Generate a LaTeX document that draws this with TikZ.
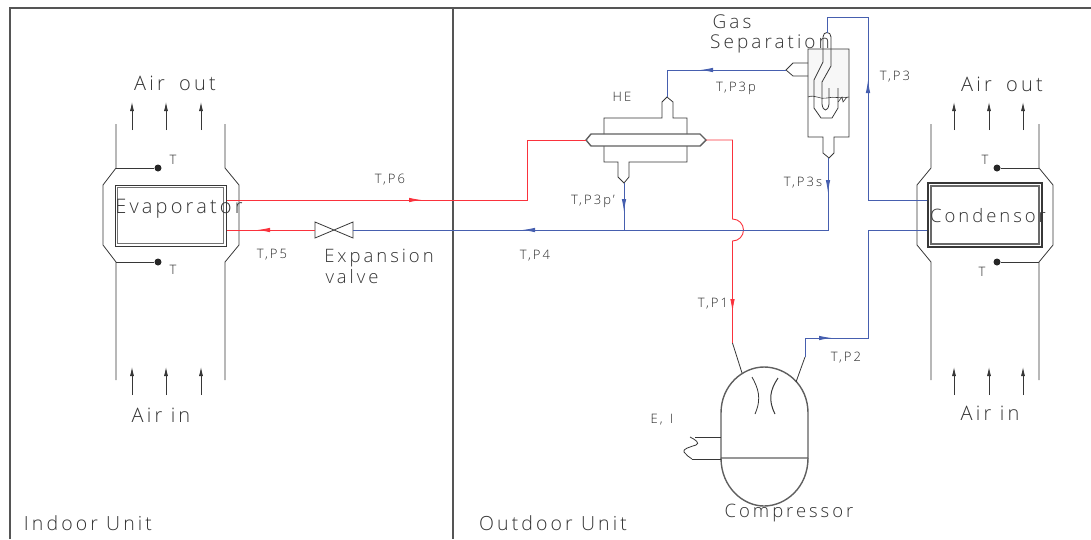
\documentclass[tikz,border=0pt]{standalone}
\usepackage{fontspec}
\usepackage{xcolor}
\setmainfont{Open Sans Light}[LetterSpace=16]
\usetikzlibrary{
    arrows.meta,
    calc,
    positioning
}
\definecolor{pipered}{RGB}{250,50,60}
\definecolor{pipeblue}{RGB}{70,95,175}
\definecolor{cadgray}{RGB}{55,55,55}
\tikzset{
    frameline/.style={draw=cadgray!85, line width=1.6pt},
    cadline/.style={draw=cadgray, line width=0.8pt, line join=miter},
    heavyline/.style={draw=cadgray!80, line width=1.4pt},
    redpipe/.style={draw=pipered, line width=0.9pt},
    bluepipe/.style={draw=pipeblue, line width=0.9pt},
    pipetip/.style={-{Latex[length=13pt, width=4.5pt]}},
    coilbox/.style={draw=cadgray, line width=1pt, inner sep=0pt},
    sensordot/.style={circle, fill=black!85, inner sep=0pt, minimum size=7pt},
    biglabel/.style={font=\fontsize{20}{21}\selectfont, text=black!80, inner sep=0pt},
    midlabel/.style={font=\fontsize{18.5}{20}\selectfont, text=black!80, inner sep=0pt},
    smalllabel/.style={font=\fontsize{13}{14}\selectfont, text=black!85, inner sep=0pt}
}

\begin{document}
\begin{tikzpicture}[x=1pt, y=-1pt]
    \useasboundingbox (0, 0) rectangle (1091, 539);
    % frame
    \coordinate (frametl) at (10, 8);
    \coordinate (framebl) at (10, 539);
    \coordinate (frametr) at (1091, 8);
    \coordinate (divtop) at (453, 8);
    \coordinate (divbot) at (453, 539);
    \draw[frameline] (framebl) -- (frametl) -- (frametr);
    \draw[frameline] (divtop) -- (divbot);
    \node[biglabel, font=\fontsize{19.5}{21}\selectfont] (indoor) at (88, 523) {Indoor Unit};
    \node[biglabel, font=\fontsize{19.5}{21}\selectfont] (outdoor) at (553, 523) {Outdoor Unit};

    % evaporator
    \draw[cadline] (116, 124) -- (116, 168) -- (103, 185) -- (103, 245) -- (116, 262) -- (116, 380);
    \draw[cadline] (225, 124) -- (225, 168) -- (239, 185) -- (239, 245) -- (225, 262) -- (225, 380);
    \node[coilbox, minimum width=111pt, minimum height=61pt] (evapcoil) at (170.5, 215.5) {};
    \node[coilbox, draw=cadgray!70, minimum width=106pt, minimum height=56pt] (evapcoilin) at (170.5, 215.5) {};
    \node[biglabel] (evaplabel) at (179, 209) {Evaporator};
    \node[sensordot] (evapdota) at (158, 168) {};
    \node[sensordot] (evapdotb) at (158, 262) {};
    \coordinate (evapwalla) at (116, 168);
    \coordinate (evapwallb) at (116, 262);
    \draw[cadline] (evapwalla) -- (evapdota);
    \draw[cadline] (evapwallb) -- (evapdotb);
    \node[smalllabel] (evaptempa) at (173, 160) {T};
    \node[smalllabel] (evaptempb) at (173, 270) {T};
    \foreach \x in {132, 166, 201} {
        \coordinate (airtail) at (\x, 130);
        \coordinate (airhead) at (\x, 102);
        \draw[cadline, -{Latex[length=9pt, width=4pt]}] (airtail) -- (airhead);
        \coordinate (airtail) at (\x, 395);
        \coordinate (airhead) at (\x, 367);
        \draw[cadline, -{Latex[length=9pt, width=4pt]}] (airtail) -- (airhead);
    }
    \node[biglabel] (evapairout) at (175, 83) {Air\hspace{6pt} out};
    \node[biglabel] (evapairin) at (161, 415) {Air in};

    % condensor
    \draw[cadline] (931, 124) -- (931, 168) -- (917, 185) -- (917, 245) -- (931, 262) -- (931, 380);
    \draw[cadline] (1039, 124) -- (1039, 168) -- (1053, 185) -- (1053, 245) -- (1039, 262) -- (1039, 380);
    \node[coilbox, line width=1.4pt, minimum width=114pt, minimum height=64pt] (condcoil) at (985, 215) {};
    \node[coilbox, line width=1.4pt, draw=cadgray!75, minimum width=108pt, minimum height=58pt] (condcoilin) at (985, 215) {};
    \node[midlabel] (condlabel) at (988, 216) {Condensor};
    \node[sensordot] (conddota) at (997, 168) {};
    \node[sensordot] (conddotb) at (997, 262) {};
    \coordinate (condwalla) at (1039, 168);
    \coordinate (condwallb) at (1039, 262);
    \draw[cadline] (condwalla) -- (conddota);
    \draw[cadline] (condwallb) -- (conddotb);
    \node[smalllabel] (condtempa) at (985, 160) {T};
    \node[smalllabel] (condtempb) at (982, 272) {T};
    \foreach \x in {954, 989, 1023} {
        \coordinate (airtail) at (\x, 130);
        \coordinate (airhead) at (\x, 102);
        \draw[cadline, -{Latex[length=9pt, width=4pt]}] (airtail) -- (airhead);
        \coordinate (airtail) at (\x, 395);
        \coordinate (airhead) at (\x, 367);
        \draw[cadline, -{Latex[length=9pt, width=4pt]}] (airtail) -- (airhead);
    }
    \node[biglabel] (condairout) at (1002, 84) {Air\hspace{6pt} out};
    \node[biglabel] (condairin) at (990, 413) {Air in};

    % heat exchanger
    \draw[cadline] (604, 134) -- (604, 118) -- (662, 118) -- (662, 102) -- (667, 97) -- (673, 102) -- (673, 118) -- (687, 118) -- (687, 134);
    \draw[cadline] (604, 146) -- (604, 162) -- (618, 162) -- (618, 177) -- (624, 183) -- (629, 177) -- (629, 162) -- (687, 162) -- (687, 146);
    \draw[heavyline] (586, 140) -- (591, 134) -- (700, 134) -- (706, 140) -- (700, 146) -- (591, 146) -- cycle;
    \node[smalllabel] (helabel) at (622, 97) {HE};

    % gas separator
    \fill[black!3] (808, 49) rectangle (849, 97);
    \draw[cadline] (808, 63) -- (793, 63) -- (786, 70) -- (793, 76) -- (808, 76);
    \draw[cadline] (808, 49) -- (849, 49) -- (849, 137) -- (834, 137) -- (834, 153) -- (829, 158) -- (823, 153) -- (823, 137) -- (808, 137) -- cycle;
    \draw[cadline] (814, 108) -- (814, 80) -- (823, 62) -- (823, 37) .. controls (823, 31) and (831, 31) .. (831, 37) -- (831, 66) -- (822, 82) -- (822, 104) .. controls (823, 112) and (828, 112) .. (829, 104) -- (829, 88);
    \draw[cadline] (814, 108) -- (821, 118) -- (832, 118) -- (838, 108) -- (838, 88);
    \draw[cadline, line width=0.6pt] (808, 97) .. controls (815, 94) and (820, 100) .. (827, 98) .. controls (834, 96) and (840, 99) .. (849, 97);
    \draw[cadline, line width=0.6pt] (838, 102) -- (842, 97) -- (843, 102) -- (847, 97);
    \node[biglabel, font=\fontsize{19}{20}\selectfont] (gaslabel) at (732, 22) {Gas};
    \node[biglabel, font=\fontsize{19}{20}\selectfont] (seplabel) at (770, 44) {Separation};

    % compressor
    \draw[heavyline] (721, 458) -- (721, 413) .. controls (721, 385) and (743, 367) .. (764, 367) .. controls (786, 367) and (808, 385) .. (808, 413) -- (808, 458) -- cycle;
    \draw[heavyline] (721, 458) .. controls (721, 487) and (743, 506) .. (764, 506) .. controls (786, 506) and (808, 487) .. (808, 458);
    \draw[cadline] (752, 377) .. controls (758, 388) and (762, 398) .. (755, 414);
    \draw[cadline, line width=1pt] (778, 378) .. controls (770, 390) and (768, 400) .. (775, 414);
    \coordinate (wirea) at (695, 437);
    \coordinate (wireb) at (692, 459);
    \coordinate (shella) at (721, 437);
    \coordinate (shellb) at (721, 459);
    \draw[cadline] (wirea) -- (shella);
    \draw[cadline] (wireb) -- (shellb);
    \draw[cadline] (690, 437) .. controls (696, 440) and (700, 443) .. (696, 445) .. controls (690, 447) and (682, 449) .. (684, 452) .. controls (686, 455) and (689, 457) .. (692, 459);
    \node[smalllabel] (powerlabel) at (662, 420) {E,\hspace{2pt} I};
    \node[midlabel] (complabel) at (789, 513) {Compressor};

    % expansion valve
    \coordinate (valveleft) at (315, 230);
    \coordinate (valveright) at (353, 230);
    \draw[cadline] (315, 222) -- (353, 238) -- (353, 222) -- (315, 238) -- cycle;
    \node[midlabel] (expandlabel) at (379, 258) {Expansion};
    \node[midlabel] (valvelabel) at (352, 277) {valve};

    % joints of the pipes
    \coordinate (evapout) at (evapcoil.east |- 0, 200);
    \coordinate (evapin) at (evapcoil.east |- 0, 230);
    \coordinate (p6corner) at (527, 200);
    \coordinate (heleftrise) at (527, 140);
    \coordinate (heleft) at (586, 140);
    \coordinate (heright) at (706, 140);
    \coordinate (p1corner) at (732.5, 140);
    \coordinate (hopstart) at (732.5, 219);
    \coordinate (hopend) at (732.5, 241);
    \coordinate (p1end) at (732.5, 343);
    \coordinate (compsuction) at (742, 373);
    \coordinate (compoutlet) at (796, 382);
    \coordinate (p2start) at (805, 357);
    \coordinate (p2rise) at (805, 338);
    \coordinate (p2corner) at (868, 338);
    \coordinate (p2top) at (868, 230);
    \coordinate (condlow) at (condcoil.west |- 0, 230);
    \coordinate (condhigh) at (condcoil.west |- 0, 200);
    \coordinate (p3bend) at (868, 200);
    \coordinate (p3top) at (868, 17);
    \coordinate (sepstub) at (827, 17);
    \coordinate (sepinlet) at (827, 33);
    \coordinate (septip) at (786, 70);
    \coordinate (p3pcorner) at (667, 70);
    \coordinate (hetop) at (667, 97);
    \coordinate (hebottom) at (624, 183);
    \coordinate (p3pjoin) at (624, 230);
    \coordinate (sepbottom) at (828, 158);
    \coordinate (p3scorner) at (828, 230);

    % pipes
    \draw[redpipe] (evapout) -- (p6corner) -- (heleftrise) -- (heleft);
    \draw[redpipe] (evapin) -- (valveleft);
    \draw[redpipe] (heright) -- (p1corner) -- (hopstart) arc[start angle=90, end angle=-90, radius=11pt] -- (p1end);
    \draw[bluepipe] (valveright) -- (p3scorner) -- (sepbottom);
    \draw[bluepipe] (hebottom) -- (p3pjoin);
    \draw[bluepipe] (septip) -- (p3pcorner) -- (hetop);
    \draw[bluepipe] (p2start) -- (p2rise) -- (p2corner) -- (p2top) -- (condlow);
    \draw[bluepipe] (condhigh) -- (p3bend) -- (p3top) -- (sepstub) -- (sepinlet);
    \draw[cadline] (p1end) -- (compsuction);
    \draw[cadline] (p2start) -- (compoutlet);

    % arrows on the pipes
    \coordinate (tipsixa) at (408, 200);
    \coordinate (tipsixb) at (422, 200);
    \draw[redpipe, pipetip] (tipsixa) -- (tipsixb);
    \coordinate (tipfivea) at (283, 230);
    \coordinate (tipfiveb) at (257, 230);
    \draw[redpipe, pipetip] (tipfivea) -- (tipfiveb);
    \coordinate (tipfoura) at (540, 230);
    \coordinate (tipfourb) at (522, 230);
    \draw[bluepipe, pipetip] (tipfoura) -- (tipfourb);
    \coordinate (tiponea) at (732.5, 296);
    \coordinate (tiponeb) at (732.5, 312);
    \draw[redpipe, pipetip] (tiponea) -- (tiponeb);
    \coordinate (tiptwoa) at (820, 338);
    \coordinate (tiptwob) at (832, 338);
    \draw[bluepipe, pipetip] (tiptwoa) -- (tiptwob);
    \coordinate (tipthreea) at (868, 108);
    \coordinate (tipthreeb) at (868, 80);
    \draw[bluepipe, pipetip] (tipthreea) -- (tipthreeb);
    \coordinate (tipsepa) at (727, 70);
    \coordinate (tipsepb) at (700, 70);
    \draw[bluepipe, pipetip] (tipsepa) -- (tipsepb);
    \coordinate (tipprimea) at (624, 198);
    \coordinate (tipprimeb) at (624, 212);
    \draw[bluepipe, pipetip] (tipprimea) -- (tipprimeb);
    \coordinate (tipsa) at (828, 172);
    \coordinate (tipsb) at (828, 193);
    \draw[bluepipe, pipetip] (tipsa) -- (tipsb);

    % pipe labels
    \node[smalllabel] (labelsix) at (390, 180) {T,P6};
    \node[smalllabel] (labelfive) at (272, 255) {T,P5};
    \node[smalllabel] (labelfour) at (535, 256) {T,P4};
    \node[smalllabel] (labelprime) at (593, 201) {T,P3p'};
    \node[smalllabel] (labelthreep) at (736, 88) {T,P3p};
    \node[smalllabel] (labelthrees) at (803, 183) {T,P3s};
    \node[smalllabel] (labelthree) at (895, 77) {T,P3};
    \node[smalllabel] (labelone) at (713, 304) {T,P1};
    \node[smalllabel] (labeltwo) at (846, 358) {T,P2};
\end{tikzpicture}
\end{document}
